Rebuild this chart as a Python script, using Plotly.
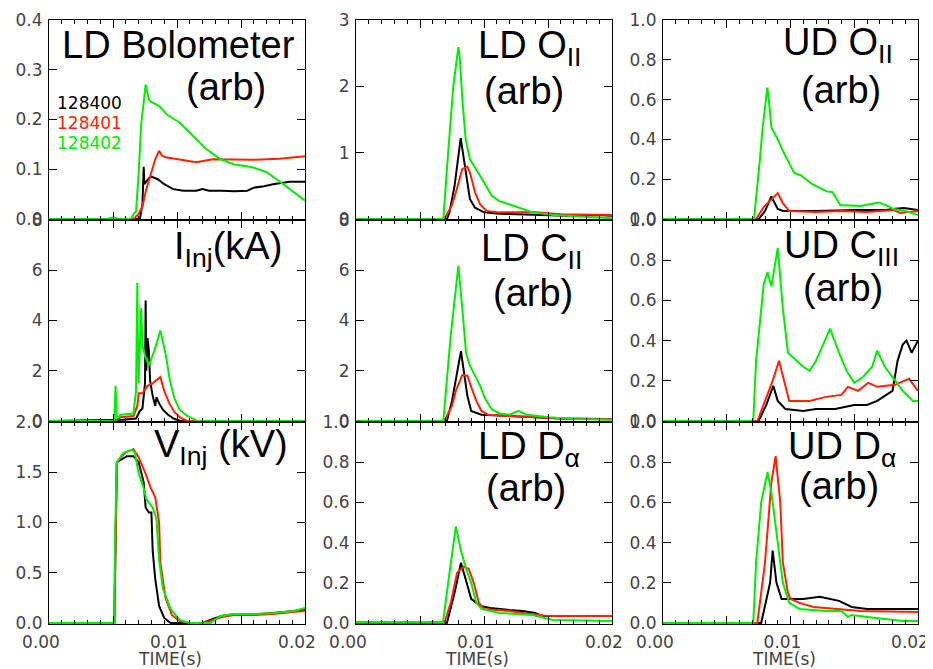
import plotly.graph_objects as go

# ---------------- data ----------------
shots = ["128400", "128401", "128402"]
shot_colors = ["#000000", "#ff2200", "#00ee00"]

# LD Bolometer (arb)
bolo_t_400 = [0, 0.0071, 0.0073, 0.0074, 0.00745, 0.0076, 0.0078, 0.0080, 0.0085, 0.0090, 0.0097, 0.0105, 0.0115, 0.0120, 0.0125, 0.0135, 0.0145, 0.0155, 0.0160, 0.0168, 0.0175, 0.0188, 0.0200]
bolo_y_400 = [0, 0, 0.03, 0.105, 0.07, 0.075, 0.082, 0.085, 0.080, 0.070, 0.060, 0.057, 0.057, 0.060, 0.057, 0.057, 0.056, 0.057, 0.063, 0.066, 0.070, 0.075, 0.075]
bolo_t_401 = [0, 0.0066, 0.0070, 0.0073, 0.0076, 0.0080, 0.0083, 0.0086, 0.0088, 0.0091, 0.0102, 0.0115, 0.0128, 0.0140, 0.0160, 0.0180, 0.0190, 0.0200]
bolo_y_401 = [0, 0, 0.01, 0.025, 0.06, 0.093, 0.12, 0.137, 0.128, 0.124, 0.120, 0.114, 0.120, 0.120, 0.119, 0.121, 0.123, 0.126]
bolo_t_402 = [0, 0.0045, 0.0050, 0.0055, 0.0064, 0.0066, 0.0068, 0.0070, 0.0072, 0.00755, 0.0078, 0.0080, 0.0084, 0.0087, 0.0092, 0.0102, 0.0113, 0.0123, 0.0134, 0.0144, 0.0159, 0.0170, 0.0180, 0.0188, 0.0198, 0.0200]
bolo_y_402 = [0, 0, 0.003, 0, 0, 0.01, 0.015, 0.09, 0.19, 0.27, 0.24, 0.235, 0.23, 0.225, 0.21, 0.194, 0.166, 0.14, 0.12, 0.11, 0.104, 0.094, 0.076, 0.06, 0.04, 0.037]

# I_Inj (kA)
iinj_t_400 = [0, 0.0058, 0.0068, 0.0071, 0.0073, 0.0075, 0.00755, 0.0076, 0.0077, 0.0078, 0.0079, 0.0081, 0.0083, 0.0084, 0.0086, 0.0089, 0.0093, 0.0098, 0.0103, 0.0200]
iinj_y_400 = [0, 0.05, 0.1, 0.4, 0.5, 1.5, 4.8, 2.0, 3.3, 2.8, 1.6, 1.0, 0.6, 0.95, 0.7, 0.45, 0.25, 0.08, 0, 0]
iinj_t_401 = [0, 0.0052, 0.0056, 0.0066, 0.0069, 0.0070, 0.0073, 0.0077, 0.0081, 0.0087, 0.0090, 0.0094, 0.0098, 0.0103, 0.0108, 0.0200]
iinj_y_401 = [0, 0, 0.15, 0.2, 0.6, 1.1, 1.1, 1.4, 1.5, 1.75, 1.2, 0.7, 0.35, 0.12, 0, 0]
iinj_t_402 = [0, 0.0051, 0.0052, 0.0053, 0.0056, 0.0066, 0.0068, 0.0069, 0.00695, 0.0070, 0.0072, 0.0073, 0.0075, 0.0078, 0.0083, 0.0087, 0.0091, 0.00945, 0.0098, 0.0102, 0.0108, 0.0116, 0.0200]
iinj_y_402 = [0, 0, 1.4, 0.1, 0.25, 0.3, 1.2, 5.5, 3.0, 1.5, 4.5, 3.0, 2.6, 2.2, 2.9, 3.6, 2.7, 1.6, 0.9, 0.45, 0.2, 0, 0]

# V_Inj (kV)
vinj_t_400 = [0, 0.0051, 0.0052, 0.0053, 0.0061, 0.0066, 0.0070, 0.0074, 0.00755, 0.0078, 0.0080, 0.0081, 0.0083, 0.0086, 0.0090, 0.0095, 0.0105, 0.0120, 0.0128, 0.0135, 0.0145, 0.0155, 0.0175, 0.0190, 0.0200]
vinj_y_400 = [0, 0, 0.8, 1.6, 1.66, 1.66, 1.6, 1.4, 1.15, 1.1, 1.1, 0.72, 0.44, 0.17, 0.05, 0.0, 0.0, 0.0, 0.04, 0.07, 0.09, 0.08, 0.1, 0.12, 0.13]
vinj_t_401 = [0, 0.0051, 0.0052, 0.0053, 0.0060, 0.0066, 0.0070, 0.0075, 0.0079, 0.0083, 0.0086, 0.0087, 0.0091, 0.0096, 0.0102, 0.0110, 0.0120, 0.0126, 0.0135, 0.0145, 0.0160, 0.0175, 0.0190, 0.0200]
vinj_y_401 = [0, 0, 0.8, 1.6, 1.7, 1.73, 1.65, 1.5, 1.36, 1.25, 1.0, 0.6, 0.25, 0.08, 0.02, 0.0, 0.0, 0.02, 0.06, 0.08, 0.08, 0.09, 0.11, 0.12]
vinj_t_402 = [0, 0.0051, 0.00515, 0.0053, 0.0058, 0.00646, 0.0067, 0.0070, 0.0074, 0.0076, 0.0081, 0.0084, 0.0086, 0.0089, 0.0095, 0.0102, 0.0110, 0.0120, 0.0126, 0.0134, 0.0144, 0.0160, 0.0175, 0.0191, 0.0200]
vinj_y_402 = [0, 0, 0.8, 1.6, 1.69, 1.72, 1.7, 1.49, 1.34, 1.23, 1.15, 1.03, 0.63, 0.34, 0.14, 0.03, 0.0, 0.0, 0.0, 0.07, 0.09, 0.09, 0.1, 0.12, 0.15]

# LD O_II (arb)
oii_ld_t_400 = [0, 0.0071, 0.0073, 0.0077, 0.00818, 0.0086, 0.0089, 0.0093, 0.0098, 0.0100, 0.0112, 0.0138, 0.0164, 0.0188, 0.0200]
oii_ld_y_400 = [0, 0, 0.1, 0.5, 1.22, 0.7, 0.3, 0.17, 0.12, 0.1, 0.08, 0.07, 0.05, 0.06, 0.05]
oii_ld_t_401 = [0, 0.0069, 0.00747, 0.0078, 0.0083, 0.0087, 0.0089, 0.0093, 0.0097, 0.0102, 0.0112, 0.0140, 0.0160, 0.0180, 0.0200]
oii_ld_y_401 = [0, 0, 0.2, 0.4, 0.75, 0.79, 0.7, 0.4, 0.22, 0.12, 0.1, 0.1, 0.07, 0.06, 0.06]
oii_ld_t_402 = [0, 0.00682, 0.0072, 0.0076, 0.0080, 0.0081, 0.00833, 0.00857, 0.0089, 0.0094, 0.00995, 0.0106, 0.0112, 0.0123, 0.0130, 0.0138, 0.0154, 0.0172, 0.0185, 0.0200]
oii_ld_y_402 = [0, 0, 1.0, 2.0, 2.59, 2.45, 1.75, 1.2, 0.9, 0.75, 0.57, 0.35, 0.27, 0.2, 0.15, 0.1, 0.06, 0.04, 0.02, 0.01]

# LD C_II (arb)
cii_ld_t_400 = [0, 0.0071, 0.0075, 0.0082, 0.0087, 0.0090, 0.0098, 0.0120, 0.0140, 0.0160, 0.0200]
cii_ld_y_400 = [0, 0, 0.8, 2.78, 1.0, 0.4, 0.25, 0.2, 0.15, 0.1, 0.07]
cii_ld_t_401 = [0, 0.0069, 0.0075, 0.0078, 0.0083, 0.0087, 0.0090, 0.0094, 0.0098, 0.0103, 0.0120, 0.0140, 0.0160, 0.0200]
cii_ld_y_401 = [0, 0, 0.6, 1.2, 1.83, 1.8, 1.35, 0.8, 0.4, 0.25, 0.2, 0.15, 0.1, 0.08]
cii_ld_t_402 = [0, 0.00682, 0.0074, 0.0080, 0.0083, 0.0086, 0.0089, 0.0092, 0.0097, 0.0101, 0.0106, 0.0112, 0.0120, 0.0127, 0.0133, 0.0151, 0.0170, 0.0200]
cii_ld_y_402 = [0, 0, 3.4, 6.18, 4.5, 2.7, 2.2, 1.9, 1.4, 0.87, 0.47, 0.3, 0.25, 0.4, 0.25, 0.15, 0.08, 0.05]

# LD D_alpha (arb)
da_ld_t_400 = [0, 0.0071, 0.0077, 0.0082, 0.0086, 0.0090, 0.0097, 0.0105, 0.0120, 0.0130, 0.0140, 0.0145, 0.0200]
da_ld_y_400 = [0, 0, 0.15, 0.3, 0.21, 0.12, 0.085, 0.075, 0.065, 0.06, 0.05, 0.035, 0.035]
da_ld_t_401 = [0, 0.0069, 0.0074, 0.0079, 0.0084, 0.0088, 0.0092, 0.0096, 0.0100, 0.0120, 0.0130, 0.0142, 0.0150, 0.0200]
da_ld_y_401 = [0, 0, 0.1, 0.25, 0.28, 0.27, 0.2, 0.1, 0.07, 0.06, 0.05, 0.04, 0.035, 0.035]
da_ld_t_402 = [0, 0.0068, 0.0072, 0.0076, 0.0078, 0.0082, 0.0087, 0.0090, 0.0094, 0.0098, 0.0112, 0.0138, 0.0145, 0.0154, 0.0200]
da_ld_y_402 = [0.005, 0.005, 0.2, 0.4, 0.48, 0.36, 0.25, 0.2, 0.1, 0.07, 0.05, 0.04, 0.03, 0.015, 0.01]

# UD O_II (arb)
oii_ud_t_400 = [0, 0.0075, 0.0080, 0.0085, 0.0090, 0.0094, 0.0120, 0.0150, 0.0175, 0.0180, 0.0189, 0.0195, 0.0200]
oii_ud_y_400 = [0, 0, 0.04, 0.113, 0.05, 0.04, 0.04, 0.045, 0.045, 0.05, 0.055, 0.05, 0.045]
oii_ud_t_401 = [0, 0.0073, 0.0079, 0.0090, 0.0094, 0.0099, 0.0120, 0.0140, 0.0160, 0.0181, 0.0186, 0.0200]
oii_ud_y_401 = [0, 0, 0.06, 0.13, 0.08, 0.04, 0.035, 0.04, 0.035, 0.045, 0.03, 0.04]
oii_ud_t_402 = [0, 0.00714, 0.0076, 0.0078, 0.00818, 0.0083, 0.0085, 0.0090, 0.0095, 0.0103, 0.0108, 0.0117, 0.0128, 0.0133, 0.0139, 0.0155, 0.0169, 0.0175, 0.0181, 0.0190, 0.0200]
oii_ud_y_402 = [0, 0, 0.3, 0.45, 0.66, 0.6, 0.46, 0.4, 0.33, 0.23, 0.22, 0.175, 0.14, 0.135, 0.07, 0.065, 0.083, 0.07, 0.05, 0.04, 0.02]

# UD C_III (arb)
ciii_ud_t_400 = [0, 0.0075, 0.0081, 0.00865, 0.0090, 0.0096, 0.0110, 0.0120, 0.0135, 0.0150, 0.0160, 0.0168, 0.0180, 0.0184, 0.0188, 0.0191, 0.0195, 0.0200]
ciii_ud_y_400 = [0, 0, 0.08, 0.175, 0.1, 0.06, 0.05, 0.06, 0.06, 0.08, 0.08, 0.1, 0.15, 0.3, 0.38, 0.4, 0.34, 0.4]
ciii_ud_t_401 = [0, 0.0074, 0.0080, 0.0086, 0.0091, 0.0095, 0.0099, 0.0115, 0.0128, 0.0140, 0.0145, 0.0153, 0.0161, 0.0168, 0.0182, 0.0193, 0.0200]
ciii_ud_y_401 = [0, 0, 0.1, 0.2, 0.3, 0.2, 0.1, 0.1, 0.12, 0.13, 0.17, 0.15, 0.19, 0.17, 0.18, 0.21, 0.15]
ciii_ud_t_402 = [0, 0.00708, 0.0073, 0.0077, 0.0079, 0.0082, 0.0085, 0.0090, 0.0094, 0.0098, 0.0103, 0.0110, 0.0115, 0.0120, 0.0127, 0.0131, 0.0138, 0.0144, 0.0150, 0.0157, 0.0164, 0.0168, 0.0174, 0.0182, 0.0188, 0.0196, 0.0200]
ciii_ud_y_402 = [0, 0, 0.3, 0.54, 0.68, 0.74, 0.67, 0.86, 0.56, 0.34, 0.31, 0.27, 0.25, 0.3, 0.4, 0.46, 0.34, 0.25, 0.19, 0.22, 0.27, 0.35, 0.27, 0.2, 0.15, 0.1, 0.1]

# UD D_alpha (arb)
da_ud_t_400 = [0, 0.0077, 0.0084, 0.0086, 0.0089, 0.0093, 0.0110, 0.0123, 0.0138, 0.0148, 0.0160, 0.0200]
da_ud_y_400 = [0, 0, 0.2, 0.36, 0.2, 0.12, 0.12, 0.13, 0.11, 0.08, 0.07, 0.07]
da_ud_t_401 = [0, 0.0074, 0.0080, 0.0085, 0.00883, 0.0092, 0.0094, 0.0098, 0.0100, 0.0107, 0.0118, 0.0135, 0.0155, 0.0200]
da_ud_y_401 = [0, 0, 0.3, 0.7, 0.83, 0.6, 0.3, 0.15, 0.12, 0.1, 0.08, 0.07, 0.06, 0.055]
da_ud_t_402 = [0, 0.00708, 0.0073, 0.0077, 0.0082, 0.0085, 0.0090, 0.0094, 0.0099, 0.0107, 0.0128, 0.0140, 0.0145, 0.0148, 0.0160, 0.0175, 0.0188, 0.0200]
da_ud_y_402 = [0, 0, 0.3, 0.6, 0.75, 0.65, 0.4, 0.2, 0.1, 0.07, 0.06, 0.06, 0.03, 0.04, 0.03, 0.02, 0.01, 0.01]

# axis ticks
y_ticks_bolo = ([0, 0.1, 0.2, 0.3, 0.4], ["0.0", "0.1", "0.2", "0.3", "0.4"])
y_ticks_iinj = ([0, 2, 4, 6, 8], ["0", "2", "4", "6", "8"])
y_ticks_vinj = ([0, 0.5, 1.0, 1.5, 2.0], ["0.0", "0.5", "1.0", "1.5", "2.0"])
y_ticks_three = ([0, 1, 2, 3], ["0", "1", "2", "3"])
y_ticks_unit = ([0, 0.2, 0.4, 0.6, 0.8, 1.0], ["0.0", "0.2", "0.4", "0.6", "0.8", "1.0"])

# panels: (row, col, series, y ticks, title lines)
panels = [
    (0, 0, [(bolo_t_400, bolo_y_400), (bolo_t_401, bolo_y_401), (bolo_t_402, bolo_y_402)], y_ticks_bolo,
     [("LD Bolometer", 60, 45), ("(arb)", 184, 87)]),
    (1, 0, [(iinj_t_400, iinj_y_400), (iinj_t_401, iinj_y_401), (iinj_t_402, iinj_y_402)], y_ticks_iinj,
     [("I<sub>Inj</sub>(kA)", 172, 249)]),
    (2, 0, [(vinj_t_400, vinj_y_400), (vinj_t_401, vinj_y_401), (vinj_t_402, vinj_y_402)], y_ticks_vinj,
     [("V<sub>Inj</sub> (kV)", 152, 447)]),
    (0, 1, [(oii_ld_t_400, oii_ld_y_400), (oii_ld_t_401, oii_ld_y_401), (oii_ld_t_402, oii_ld_y_402)], y_ticks_three,
     [("LD O<sub>II</sub>", 476, 48), ("(arb)", 482, 91)]),
    (1, 1, [(cii_ld_t_400, cii_ld_y_400), (cii_ld_t_401, cii_ld_y_401), (cii_ld_t_402, cii_ld_y_402)], y_ticks_iinj,
     [("LD C<sub>II</sub>", 479, 251), ("(arb)", 491, 293)]),
    (2, 1, [(da_ld_t_400, da_ld_y_400), (da_ld_t_401, da_ld_y_401), (da_ld_t_402, da_ld_y_402)], y_ticks_unit,
     [("LD D<sub>α</sub>", 476, 449), ("(arb)", 484, 488)]),
    (0, 2, [(oii_ud_t_400, oii_ud_y_400), (oii_ud_t_401, oii_ud_y_401), (oii_ud_t_402, oii_ud_y_402)], y_ticks_unit,
     [("UD O<sub>II</sub>", 781, 45), ("(arb)", 799, 90)]),
    (1, 2, [(ciii_ud_t_400, ciii_ud_y_400), (ciii_ud_t_401, ciii_ud_y_401), (ciii_ud_t_402, ciii_ud_y_402)], y_ticks_unit,
     [("UD C<sub>III</sub>", 782, 248), ("(arb)", 801, 288)]),
    (2, 2, [(da_ud_t_400, da_ud_y_400), (da_ud_t_401, da_ud_y_401), (da_ud_t_402, da_ud_y_402)], y_ticks_unit,
     [("UD D<sub>α</sub>", 786, 449), ("(arb)", 797, 486)]),
]

# ---------------- layout geometry (window pixels) ----------------
# the page body has an 8px margin, so the figure is placed 8px in from the window corner
OFF = 8
W, H = 933 - OFF, 669 - OFF
col_px = [(49, 305), (356, 612), (663, 918)]
row_px = [(20, 220), (220, 422), (422, 624)]


def px_x(px):
    return (px - OFF) / W


def px_y(py):
    return 1 - (py - OFF) / H


TITLE_FONT = dict(family="Liberation Sans, Arial, sans-serif", size=38, color="black")
TICK_FONT = dict(family="DejaVu Sans, sans-serif", size=17, color="#444444")

fig = go.Figure()
layout = dict(
    width=W, height=H, margin=dict(l=0, r=0, t=0, b=0, autoexpand=False),
    paper_bgcolor="white", plot_bgcolor="white", showlegend=False,
)
annotations = []

for k, (r, c, series, (yvals, ytext), titles) in enumerate(panels, start=1):
    xs = "" if k == 1 else str(k)
    x0, x1 = col_px[c]
    y0, y1 = row_px[r]
    ymax = yvals[-1]
    for (t, v), col in zip(series, shot_colors):
        fig.add_trace(go.Scatter(x=t, y=v, mode="lines", line=dict(color=col, width=2),
                                 xaxis="x" + xs, yaxis="y" + xs, hoverinfo="skip"))
    layout["xaxis" + xs] = dict(
        domain=[px_x(x0), px_x(x1)], anchor="y" + xs, range=[0, 0.02], automargin=False,
        tickmode="linear", tick0=0, dtick=0.005, ticklabelstep=2, tickformat=".2f",
        showticklabels=(r == 2), ticklabelshift=-8, ticklabelstandoff=3,
        ticks="inside", ticklen=8, tickwidth=1, tickcolor="black",
        minor=dict(ticks="inside", ticklen=4, dtick=0.001, tick0=0, tickcolor="black", tickwidth=1),
        showline=True, linecolor="black", linewidth=1, mirror="ticks",
        showgrid=False, zeroline=False, tickfont=TICK_FONT, fixedrange=True,
    )
    layout["yaxis" + xs] = dict(
        domain=[px_y(y1), px_y(y0)], anchor="x" + xs, range=[-0.005 * ymax, ymax], automargin=False,
        tickmode="array", tickvals=yvals, ticktext=ytext,
        ticks="inside", ticklen=8, tickwidth=1, tickcolor="black", ticklabelstandoff=2,
        showline=True, linecolor="black", linewidth=1, mirror="ticks",
        showgrid=False, zeroline=False, tickfont=TICK_FONT, fixedrange=True,
    )
    for text, lx, cy in titles:
        annotations.append(dict(text=text, x=px_x(lx), y=px_y(cy), xref="paper", yref="paper",
                                xanchor="left", yanchor="middle", showarrow=False, font=TITLE_FONT))
    if r == 2:
        annotations.append(dict(text="TIME(s)", x=px_x(x0 + (x1 - x0) / 2 - 7), y=px_y(659),
                                xref="paper", yref="paper",
                                xanchor="center", yanchor="middle", showarrow=False, font=TICK_FONT))

# legend of shot numbers in first panel
for i, (s, col) in enumerate(zip(shots, shot_colors)):
    annotations.append(dict(text=s, x=px_x(55), y=px_y(103 + 20 * i), xref="paper", yref="paper",
                            xanchor="left", yanchor="middle", showarrow=False,
                            font=dict(family="DejaVu Sans, sans-serif", size=17, color=col)))

layout["annotations"] = annotations
fig.update_layout(**layout)
fig.write_html("out.html")
